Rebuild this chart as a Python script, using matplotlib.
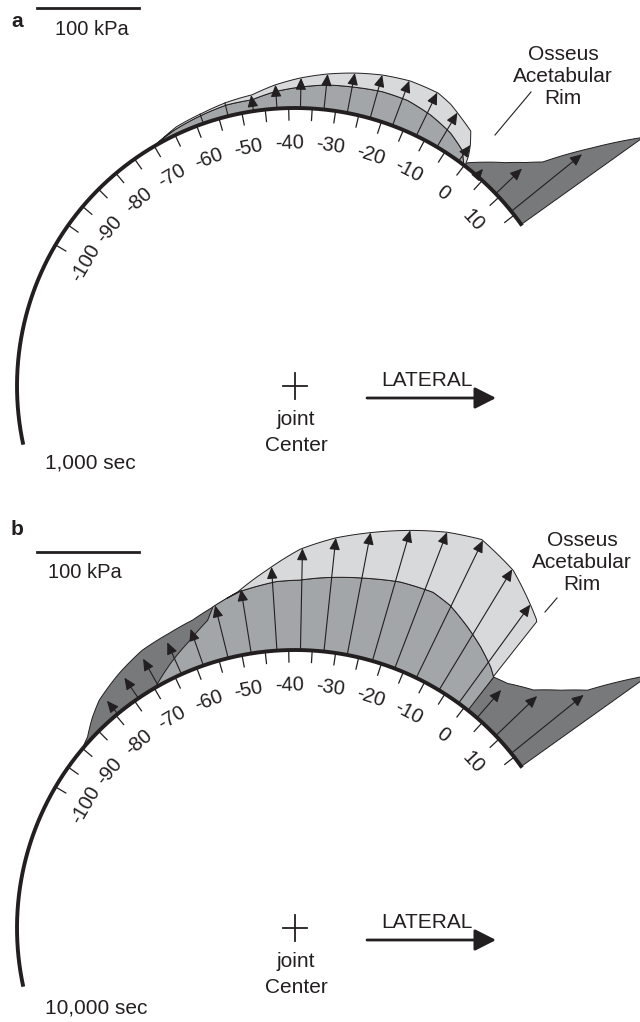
import numpy as np
import matplotlib
matplotlib.use('Agg')
import matplotlib.pyplot as plt
from matplotlib.patches import Polygon, FancyArrowPatch

plt.rcParams['font.family'] = ['Liberation Sans', 'DejaVu Sans']

# angle scale along the joint surface (deg)
tick_angles = np.arange(-100, 16, 5)
label_angles = np.arange(-100, 11, 10)

# panel a, 1,000 sec : pressure (kPa) vs angle
a_mid_ang = [-70.6, -64.4, -58, -52.8, -47.5, -42.7, -37.6, -32.4, -26.9, -21.6, -16.5, -11.2, -6.1, -2.2, -0.1]
a_mid_kpa = [0, 5, 8.4, 11, 11.2, 16.7, 20.6, 24.2, 26.2, 28.4, 28.4, 24.5, 18.6, 10.8, 0]
a_tot_ang = [-70, -64, -58, -52.7, -47.3, -42.6, -37.7, -32.6, -27.4, -22.5, -17.3, -11.8, -8.8, -6, -3, -1.5, -0.5, 0.2]
a_tot_kpa = [0, 6.9, 10, 13.5, 16, 23.2, 29.4, 34.9, 39.9, 44.1, 47.1, 47.1, 43, 37, 31, 19.6, 10, 0]
a_rim_ang = [0.0, 0.2, 2.7, 6.0, 8.7, 10.7, 14.2, 17.5]
a_rim_kpa = [0, 4, 14.4, 28.4, 42.5, 54.9, 100.5, 147]
a_arrows = [-47.5, -42.5, -37.5, -32.5, -27.5, -22.5, -17.5, -12, -7, -1.5]
a_lines = [-58.5, -53]

# panel b, 10,000 sec
b_dark_ang = [-90.2, -87.5, -84, -80.6, -74.3, -68.4, -62.4, -57.6, -52.8, -50.7]
b_dark_kpa = [0, 3.9, 13.7, 21.9, 30.9, 38.2, 41.7, 45.6, 53.3, 57.5]
b_mid_ang = [-69.8, -64.4, -59.4, -55, -53.4, -50.7, -48.2, -41.8, -37.8, -34.4, -26.6, -21.2, -15.6, -12.2, -7.9, -4.1, -0.6, 0.9, 1.0]
b_mid_kpa = [0, 14.7, 27.5, 41, 52.5, 57.5, 61.8, 67.6, 68.6, 71.6, 77.5, 82, 83.3, 78.4, 67.6, 57.5, 47.1, 41.2, 0]
b_tot_ang = [-50.7, -48.6, -43.3, -37.8, -32.6, -27.3, -22, -17, -12.2, -6.3, -1.5, 0.5, 0.8]
b_tot_kpa = [57.5, 61.8, 79.4, 99, 111.8, 122.5, 133.3, 143.1, 150, 138.2, 119.6, 111.8, 110]
b_rim_ang = [0.9, 3.6, 7.8, 11.0, 13.8, 17.0, 17.5]
b_rim_kpa = [41.2, 45.1, 57.8, 77, 97, 146, 146]
b_arrows = [-79.5, -74, -69, -63.5, -58.5, -53, -48, -42.5, -37.5, -32.5, -27.5, -22, -17, -12, -6.5, -1.5]
rim_arrows = [3.5, 9, 14]

INK = '#231f20'
LIGHT = '#d8d9da'
MID = '#a3a6a8'
DARK = '#77797b'
CX, R = 295, 278
PX = 1.02          # px per kPa (100 kPa bar = 102 px)
PHI0, SLOPE = 52.5, 0.97


def polar(cy, th, r):
    p = np.radians(PHI0 - SLOPE * np.asarray(th, dtype=float))
    return CX + r * np.cos(p), cy - r * np.sin(p)


def band(ax, cy, ang, kpa, color, z, inner=None):
    th = np.union1d(np.linspace(ang[0], ang[-1], 300), ang)
    outer = np.interp(th, ang, kpa)
    if inner is None:
        inn = np.zeros_like(th)
    else:
        inn = np.minimum(np.interp(th, inner[0], inner[1]), outer)
    x1, y1 = polar(cy, th, R + inn * PX)
    x2, y2 = polar(cy, th, R + outer * PX)
    xy = np.column_stack([np.concatenate([x1, x2[::-1]]), np.concatenate([y1, y2[::-1]])])
    ax.add_patch(Polygon(xy, closed=True, fc=color, ec=INK, lw=0.7, zorder=z))


def arrow(ax, cy, th, length, head=True):
    x0, y0 = polar(cy, th, R)
    x1, y1 = polar(cy, th, R + length)
    if head:
        ax.add_patch(FancyArrowPatch((x0, y0), (x1, y1), arrowstyle='-|>,head_length=0.4,head_width=0.18',
                                     mutation_scale=18, color=INK, lw=0.8, shrinkA=0, shrinkB=0, zorder=4))
    else:
        ax.plot([x0, x1], [y0, y1], color=INK, lw=0.8, zorder=4)


def surface(ax, cy):
    th = np.linspace(-144, 17.8, 400)
    x, y = polar(cy, th, R)
    ax.plot(x, y, color=INK, lw=2.8, zorder=6, solid_capstyle='butt')
    for t in tick_angles:
        x0, y0 = polar(cy, t, R)
        x1, y1 = polar(cy, t, R - 12)
        ax.plot([x0, x1], [y0, y1], color=INK, lw=0.9, zorder=6)
    for t in label_angles:
        x, y = polar(cy, t, R - 35)
        ax.text(x, y, str(t), fontsize=14.5, color=INK, ha='center', va='center',
                rotation=PHI0 - SLOPE * t - 90, rotation_mode='anchor')
    # joint center
    ax.plot([CX - 12, CX + 12], [cy, cy], color=INK, lw=1.3)
    ax.plot([CX, CX], [cy - 13, cy + 13], color=INK, lw=1.3)
    ax.text(CX + 1, cy + 39, 'joint', fontsize=15, color=INK, ha='center', va='baseline')
    ax.text(CX + 1, cy + 65, 'Center', fontsize=15, color=INK, ha='center', va='baseline')
    ax.text(427, cy + 0.5, 'LATERAL', fontsize=15, color=INK, ha='center', va='baseline')
    ax.add_patch(FancyArrowPatch((367, cy + 12), (496, cy + 12), arrowstyle='-|>,head_length=0.65,head_width=0.33',
                                 mutation_scale=20, color=INK, lw=2, shrinkA=0, shrinkB=0))


def tip(th, layers, gap_dark):
    vals = [np.interp(th, a, k, left=0, right=0) for a, k in layers[:2]]
    dark = np.interp(th, layers[2][0], layers[2][1], left=0, right=0)
    if dark > max(vals):
        return dark * PX - gap_dark
    return max(vals) * PX


fig = plt.figure(figsize=(6.4, 10.22), dpi=100)
ax = fig.add_axes([0, 0, 1, 1])
ax.set_xlim(0, 640)
ax.set_ylim(1022, 0)
ax.axis('off')

# ---- panel a
cy = 386
band(ax, cy, a_rim_ang, a_rim_kpa, DARK, 1)
band(ax, cy, a_mid_ang, a_mid_kpa, MID, 2)
band(ax, cy, a_tot_ang, a_tot_kpa, LIGHT, 3, inner=(a_mid_ang, a_mid_kpa))
la = [(a_mid_ang, a_mid_kpa), (a_tot_ang, a_tot_kpa), (a_rim_ang, a_rim_kpa)]
for t in a_lines:
    arrow(ax, cy, t, tip(t, la, 0), head=False)
for t in a_arrows:
    arrow(ax, cy, t, tip(t, la, 0))
for t in rim_arrows:
    arrow(ax, cy, t, tip(t, la, 9))
surface(ax, cy)
ax.text(45, 468.5, '1,000 sec', fontsize=15, color=INK, ha='left', va='baseline')
ax.text(17, 26.7, 'a', fontsize=15, fontweight='bold', color=INK, ha='center', va='baseline')
ax.plot([37, 37 + 100 * PX], [8.5, 8.5], color=INK, lw=2)
ax.text(92, 35, '100 kPa', fontsize=14.5, color=INK, ha='center', va='baseline')
ax.text(563, 77, 'Osseus\nAcetabular\nRim', fontsize=15, color=INK, ha='center', va='center', linespacing=1.2)
ax.plot([495, 531], [135, 92], color=INK, lw=0.8)

# ---- panel b
cy = 928
band(ax, cy, b_rim_ang, b_rim_kpa, DARK, 1)
band(ax, cy, b_dark_ang, b_dark_kpa, DARK, 1)
band(ax, cy, b_mid_ang, b_mid_kpa, MID, 2)
band(ax, cy, b_tot_ang, b_tot_kpa, LIGHT, 3, inner=(b_mid_ang, b_mid_kpa))
lb = [(b_mid_ang, b_mid_kpa), (b_tot_ang, b_tot_kpa)]
for t in b_arrows:
    arrow(ax, cy, t, tip(t, lb + [(b_dark_ang, b_dark_kpa)], 7))
for t in rim_arrows:
    arrow(ax, cy, t, tip(t, lb + [(b_rim_ang, b_rim_kpa)], 9))
surface(ax, cy)
ax.text(45, 1013, '10,000 sec', fontsize=15, color=INK, ha='left', va='baseline')
ax.text(17, 535, 'b', fontsize=15, fontweight='bold', color=INK, ha='center', va='baseline')
ax.plot([37, 37 + 100 * PX], [552, 552], color=INK, lw=2)
ax.text(85, 578, '100 kPa', fontsize=14.5, color=INK, ha='center', va='baseline')
ax.text(582, 562, 'Osseus\nAcetabular\nRim', fontsize=15, color=INK, ha='center', va='center', linespacing=1.2)
ax.plot([545, 557], [612, 598], color=INK, lw=0.8)

fig.savefig('out.png', dpi=100)
